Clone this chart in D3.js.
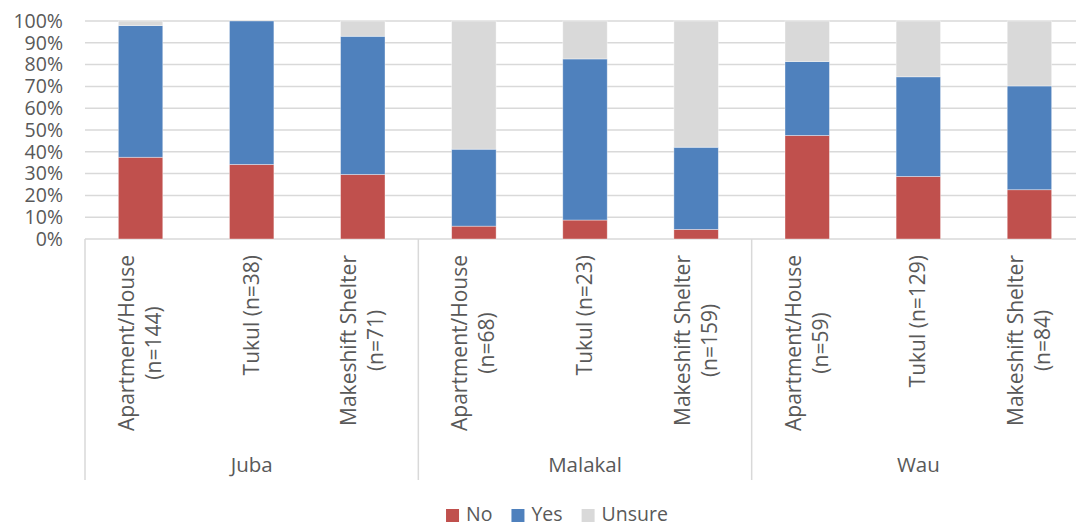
<!DOCTYPE html>
<html>
<head>
<meta charset="utf-8">
<script src="https://cdn.jsdelivr.net/npm/d3@7"></script>
<style>
  html, body { margin: 0; padding: 0; background: #fff; }
  svg { display: block; }
  text { font-family: "Open Sans", "Noto Sans", sans-serif; fill: #595959; }
</style>
</head>
<body>
<svg id="chart" width="1076" height="524"></svg>
<script>
// Cities and the housing types surveyed in each
const cities = ["Juba", "Malakal", "Wau"];
const housing = [
  ["Apartment/House", "(n=144)"], ["Tukul (n=38)"], ["Makeshift Shelter", "(n=71)"],
  ["Apartment/House", "(n=68)"],  ["Tukul (n=23)"], ["Makeshift Shelter", "(n=159)"],
  ["Apartment/House", "(n=59)"],  ["Tukul (n=129)"], ["Makeshift Shelter", "(n=84)"]
];
// Share of respondents (%) per answer, one entry per housing type above
const noPct     = [37.5, 34.2, 29.6, 5.9, 8.7, 4.4, 47.5, 28.7, 22.6];
const yesPct    = [60.4, 65.8, 63.4, 35.3, 73.9, 37.7, 33.9, 45.7, 47.6];
const unsurePct = [2.1, 0.0, 7.0, 58.8, 17.4, 57.9, 18.6, 25.6, 29.8];
const seriesNames = ["No", "Yes", "Unsure"];
const yTicks = [0, 10, 20, 30, 40, 50, 60, 70, 80, 90, 100];

const colors = { No: "#C0504D", Yes: "#4F81BD", Unsure: "#D9D9D9" };
const gridColor = "#D9D9D9";

const svg = d3.select("#chart");
const plotLeft = 85, plotRight = 1085, plotTop = 21, plotBottom = 239, axisBottom = 480;

const rows = housing.map((h, i) => ({
  id: i, city: cities[Math.floor(i / 3)], lines: h,
  No: noPct[i], Yes: yesPct[i], Unsure: unsurePct[i]
}));

const x = d3.scaleBand().domain(rows.map(d => d.id)).range([plotLeft, plotRight])
  .paddingInner(0.6).paddingOuter(0.3);
const y = d3.scaleLinear().domain([0, 100]).range([plotBottom, plotTop]);

// Gridlines
svg.append("g").selectAll("line").data(yTicks).join("line")
  .attr("x1", plotLeft).attr("x2", plotRight)
  .attr("y1", d => y(d)).attr("y2", d => y(d))
  .attr("stroke", gridColor).attr("stroke-width", 1.5);

// Y axis labels
const yAxis = d3.axisLeft(y).tickValues(yTicks).tickFormat(d => d + "%").tickSize(0).tickPadding(22);
const yg = svg.append("g").attr("transform", `translate(${plotLeft},0)`).call(yAxis);
yg.select(".domain").remove();
yg.selectAll("text").attr("font-size", 19.5).attr("fill", "#595959")
  .attr("font-family", "'Open Sans', sans-serif");

// Stacked bars
const stack = d3.stack().keys(seriesNames);
const layers = stack(rows);
svg.append("g").selectAll("g").data(layers).join("g")
  .attr("fill", d => colors[d.key])
  .selectAll("rect").data(d => d).join("rect")
  .attr("x", d => x(d.data.id))
  .attr("width", x.bandwidth())
  .attr("y", d => y(d[1]))
  .attr("height", d => Math.max(0, y(d[0]) - y(d[1])))
  .attr("stroke", "#fff").attr("stroke-opacity", 0.5).attr("stroke-width", 0.75);

// Bottom axis with group separators
const step = x.step();
const groupEdges = [0, 3, 6, 9].map(k => plotLeft + k * step);
svg.append("g").selectAll("line").data(groupEdges).join("line")
  .attr("x1", d => d).attr("x2", d => d)
  .attr("y1", plotBottom).attr("y2", axisBottom)
  .attr("stroke", gridColor).attr("stroke-width", 1.5);

// Rotated housing-type labels
const lineGap = 27;
const labelTop = 255;
const catG = svg.append("g");
rows.forEach(r => {
  const cx = x(r.id) + x.bandwidth() / 2;
  const n = r.lines.length;
  const g = catG.append("g");
  const texts = r.lines.map((ln, j) => {
    const bx = cx + 7 + (j - (n - 1) / 2) * lineGap;
    return g.append("text").text(ln)
      .attr("font-size", 21)
      .attr("text-anchor", "middle")
      .attr("data-bx", bx);
  });
  const maxLen = d3.max(texts, t => t.node().getComputedTextLength());
  const cy = labelTop + maxLen / 2;
  texts.forEach(t => {
    const bx = +t.attr("data-bx");
    t.attr("transform", `translate(${bx},${cy}) rotate(-90)`);
  });
});

// City labels
svg.append("g").selectAll("text").data(cities).join("text")
  .attr("x", (d, i) => plotLeft + (i * 3 + 1.5) * step)
  .attr("y", 472)
  .attr("text-anchor", "middle")
  .attr("font-size", 20.5)
  .text(d => d);

// Legend
const legend = svg.append("g");
let lx = 0;
seriesNames.forEach(name => {
  const item = legend.append("g").attr("transform", `translate(${lx},0)`);
  item.append("rect").attr("x", 0).attr("y", 509).attr("width", 13).attr("height", 13)
    .attr("fill", colors[name]);
  const t = item.append("text").attr("x", 20).attr("y", 520.5).attr("font-size", 19.5).text(name);
  lx += 20 + t.node().getComputedTextLength() + 19;
});
const legendW = lx - 19;
legend.attr("transform", `translate(${557 - legendW / 2},0)`);
</script>
</body>
</html>
